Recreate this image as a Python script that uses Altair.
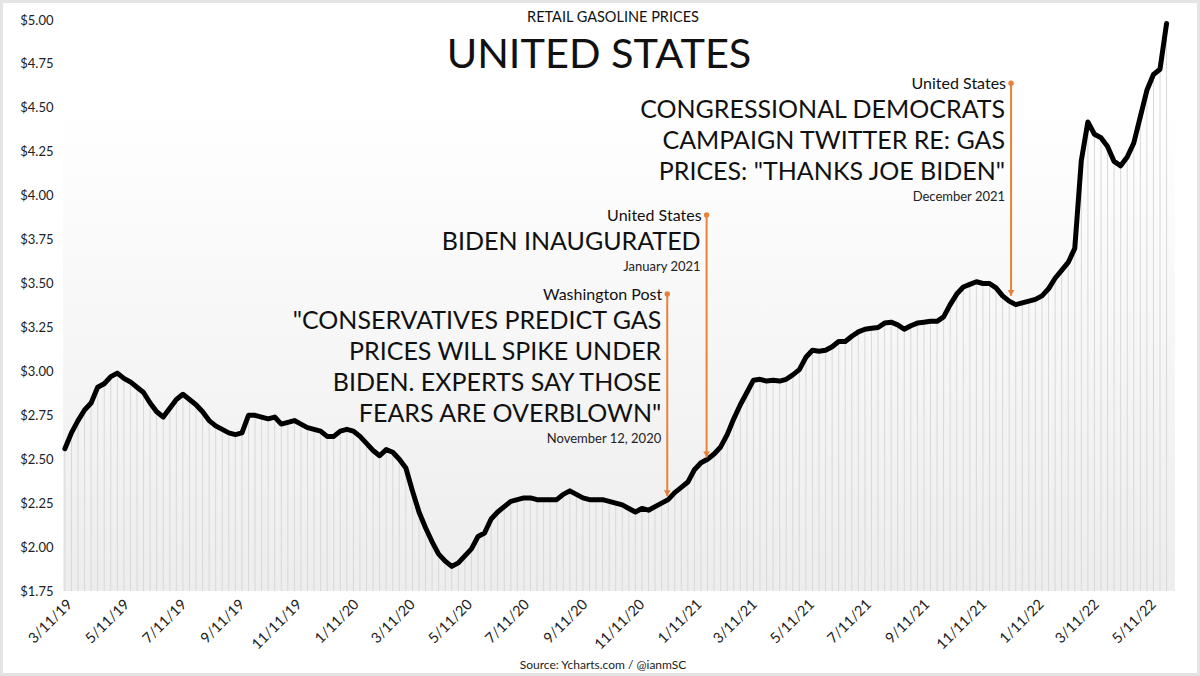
import altair as alt
import pandas as pd

FONT = "Lato"
ORANGE = "#e8823a"

# Weekly US retail gasoline price ($/gal), starting the week of 3/11/2019
first_week = "2019-03-11"
prices = [
    2.56, 2.65, 2.72, 2.78, 2.82, 2.91, 2.93, 2.97, 2.99, 2.96,
    2.94, 2.91, 2.88, 2.82, 2.77, 2.74, 2.79, 2.84, 2.87, 2.84,
    2.81, 2.77, 2.72, 2.69, 2.67, 2.65, 2.64, 2.65, 2.75, 2.75,
    2.74, 2.73, 2.74, 2.70, 2.71, 2.72, 2.70, 2.68, 2.67, 2.66,
    2.63, 2.63, 2.66, 2.67, 2.66,
    2.63, 2.59, 2.55, 2.52, 2.555, 2.54, 2.50, 2.45, 2.32, 2.20,
    2.11, 2.03, 1.96, 1.92, 1.89, 1.91, 1.95, 1.99, 2.06, 2.08,
    2.16, 2.20, 2.23, 2.26, 2.27, 2.28, 2.28, 2.27, 2.27, 2.27,
    2.27, 2.30, 2.32, 2.30, 2.28, 2.27, 2.27, 2.27, 2.26, 2.25,
    2.24, 2.22, 2.20, 2.22, 2.21, 2.23, 2.25, 2.27, 2.31, 2.34,
    2.37, 2.44, 2.48, 2.50, 2.53,
    2.57, 2.64, 2.73, 2.81, 2.88, 2.95, 2.955, 2.945, 2.95, 2.945,
    2.955, 2.98, 3.01, 3.08, 3.12, 3.115, 3.12, 3.14, 3.17, 3.17,
    3.20, 3.225, 3.24, 3.245, 3.25, 3.275, 3.28, 3.265, 3.24, 3.26,
    3.275, 3.28, 3.285, 3.285, 3.31, 3.38, 3.44, 3.48, 3.495, 3.51,
    3.50, 3.50, 3.475,
    3.43, 3.40, 3.38, 3.39, 3.40, 3.41, 3.43, 3.47, 3.53, 3.575,
    3.62, 3.70, 4.20, 4.42, 4.35, 4.33, 4.28, 4.195, 4.17, 4.22,
    4.30, 4.45, 4.60, 4.69, 4.72, 4.98,
]
dates = pd.date_range(first_week, periods=len(prices), freq="7D").strftime("%Y-%m-%d")
df = pd.DataFrame({"date": dates, "price": prices})

# Axis ticks: the 11th of every other month
tick_months = [(2019, m) for m in (3, 5, 7, 9, 11)] + \
              [(2020, m) for m in (1, 3, 5, 7, 9, 11)] + \
              [(2021, m) for m in (1, 3, 5, 7, 9, 11)] + \
              [(2022, m) for m in (1, 3, 5)]
y_ticks = [1.75, 2.00, 2.25, 2.50, 2.75, 3.00, 3.25, 3.50, 3.75, 4.00, 4.25, 4.50, 4.75, 5.00]

# Callouts
ann_dates = ["2020-12-13", "2021-01-24", "2021-12-15"]
ann_top = [3.44, 3.89, 4.64]
ann_target = [2.29, 2.51, 3.43]
ann_source = ["Washington Post", "United States", "United States"]
ann_headline = [
    ['"CONSERVATIVES PREDICT GAS', "PRICES WILL SPIKE UNDER",
     "BIDEN. EXPERTS SAY THOSE", 'FEARS ARE OVERBLOWN"'],
    ["BIDEN INAUGURATED"],
    ["CONGRESSIONAL DEMOCRATS", "CAMPAIGN TWITTER RE: GAS",
     'PRICES: "THANKS JOE BIDEN"'],
]
ann_when = ["November 12, 2020", "January 2021", "December 2021"]
ann = pd.DataFrame({
    "date": ann_dates, "top": ann_top, "target": ann_target,
    "source": ann_source, "headline": ann_headline, "when": ann_when,
})

W, H = 1112, 571
LEFT, TOP = 63, 20
LINE_H = 31

x_scale = alt.Scale(
    type="utc",
    domain=[alt.DateTime(year=2019, month=3, date=9, utc=True),
            alt.DateTime(year=2022, month=6, date=8, utc=True)],
)
x_enc = alt.X(
    "date:T", scale=x_scale,
    axis=alt.Axis(
        title=None, values=[alt.DateTime(year=y, month=m, date=11, utc=True) for y, m in tick_months],
        format="%-m/%d/%y", labelAngle=-45, labelFont=FONT, labelFontSize=14.5,
        labelColor="#222222", ticks=False, domain=False, grid=False, labelPadding=6,
        labelOverlap=False, labelFlush=False,
    ),
)
y_scale = alt.Scale(domain=[1.75, 5.0], nice=False, zero=False)
y_enc = alt.Y(
    "price:Q", scale=y_scale,
    axis=alt.Axis(
        title=None, values=y_ticks, format="$.2f", labelFont=FONT, labelFontSize=13,
        labelColor="#222222", ticks=False, domain=False, grid=False, labelPadding=10,
    ),
)

one = pd.DataFrame({"k": [0]})

backdrop = alt.Chart(one).mark_rect(
    fill=alt.Gradient(
        gradient="linear",
        stops=[alt.GradientStop(color="#ffffff", offset=0),
               alt.GradientStop(color="#ffffff", offset=0.15),
               alt.GradientStop(color="#ededed", offset=1)],
        x1=0, x2=0, y1=0, y2=1,
    )
).encode(x=alt.value(0), x2=alt.value(W), y=alt.value(0), y2=alt.value(H))

stripes = alt.Chart(df).mark_rule(color="#d8d8d8", strokeWidth=1).encode(
    x=x_enc, y=y_enc, y2=alt.datum(1.75)
)

line = alt.Chart(df).mark_line(
    color="#000000", strokeWidth=5, strokeJoin="round", strokeCap="round"
).encode(x=x_enc, y=y_enc)

ax = alt.X("date:T", scale=x_scale)
ann_base = alt.Chart(ann)

ann_rule = ann_base.mark_rule(color=ORANGE, strokeWidth=2).encode(
    x=ax, y=alt.Y("top:Q", scale=y_scale), y2="target:Q"
)
ann_dot = ann_base.mark_point(filled=True, color=ORANGE, size=30, opacity=1).encode(
    x=ax, y=alt.Y("top:Q", scale=y_scale)
)
ann_head = ann_base.mark_point(
    shape="triangle-down", filled=True, color=ORANGE, size=45, opacity=1, yOffset=-3
).encode(x=ax, y=alt.Y("target:Q", scale=y_scale))

ann_src = ann_base.mark_text(
    align="right", baseline="middle", dx=-5, dy=1, font=FONT, fontSize=16, color="#111111"
).encode(x=ax, y=alt.Y("top:Q", scale=y_scale), text="source:N")

ann_text = ann_base.mark_text(
    align="right", baseline="top", dx=-6, dy=15, font=FONT, fontSize=25,
    lineHeight=LINE_H, color="#111111"
).encode(x=ax, y=alt.Y("top:Q", scale=y_scale), text="headline")

when_layers = []
for k in range(len(ann)):
    n = len(ann_headline[k])
    when_layers.append(
        alt.Chart(ann.iloc[[k]]).mark_text(
            align="right", baseline="middle", dx=-6, dy=21 + LINE_H * n,
            font=FONT, fontSize=13, color="#222222"
        ).encode(x=ax, y=alt.Y("top:Q", scale=y_scale), text="when:N")
    )

title_small = alt.Chart(one).mark_text(
    font=FONT, fontSize=14.5, color="#111111", align="center", baseline="middle"
).encode(x=alt.value(613 - LEFT), y=alt.value(18 - TOP), text=alt.value("RETAIL GASOLINE PRICES"))
title_big = alt.Chart(one).mark_text(
    font=FONT, fontSize=41.5, color="#111111", align="center", baseline="middle"
).encode(x=alt.value(599 - LEFT), y=alt.value(56 - TOP), text=alt.value("UNITED STATES"))
source = alt.Chart(one).mark_text(
    font=FONT, fontSize=12, color="#222222", align="center", baseline="middle"
).encode(x=alt.value(603 - LEFT), y=alt.value(665 - TOP), text=alt.value("Source: Ycharts.com / @ianmSC"))

frame = alt.Chart(one).mark_rect(fill=None, stroke="#e4e4e4", strokeWidth=3).encode(
    x=alt.value(-LEFT + 1.5), x2=alt.value(1200 - LEFT - 1.5),
    y=alt.value(-TOP + 1.5), y2=alt.value(676 - TOP - 1.5),
)

chart = alt.layer(
    backdrop, stripes, line, ann_rule, ann_dot, ann_head, ann_src, ann_text,
    *when_layers, title_small, title_big, source, frame,
).properties(
    width=W, height=H,
    autosize=alt.AutoSizeParams(type="none"),
    padding={"left": LEFT, "top": TOP, "right": 1200 - LEFT - W, "bottom": 676 - TOP - H},
    background="#ffffff",
).configure_view(stroke=None)

chart.save("out.html", embed_options={"renderer": "svg", "actions": False})
